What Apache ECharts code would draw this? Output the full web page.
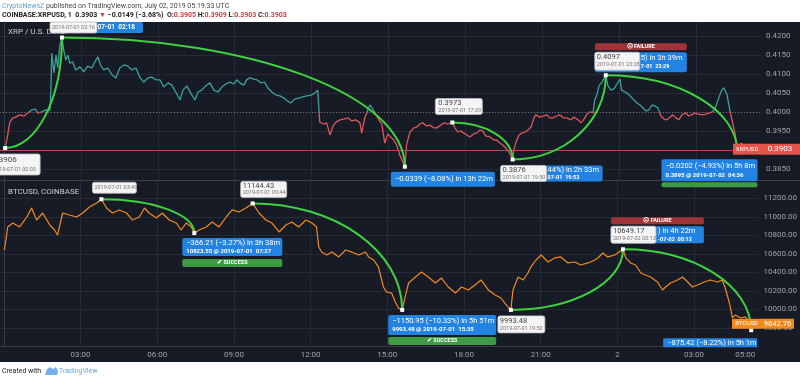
<!DOCTYPE html>
<html><head><meta charset="utf-8">
<script src="https://cdn.jsdelivr.net/npm/echarts@6/dist/echarts.min.js"></script>
<style>html,body{margin:0;padding:0;background:#fff}#c{width:800px;height:381px}</style>
</head><body><div id="c"></div>
<script>
// ---- DATA (minutes since 2019-07-01 00:00 UTC) ----
const xrpTimes = [3,9,14,21,28,37,47,56,65,73,80,89,98,103,108,110,112,117,122,126,131,136,140,145,150,154,161,168,178,187,196,206,215,220,227,234,243,253,262,271,281,290,299,309,318,327,337,346,356,365,374,384,393,402,412,419,428,437,447,454,463,472,482,491,501,510,519,529,538,545,552,561,568,575,585,592,601,610,617,627,636,646,655,664,671,681,690,699,709,718,727,734,739,748,755,763,770,777,786,795,805,814,823,833,837,844,849,856,863,870,877,884,891,898,905,912,919,926,938,942,946,950,959,966,973,980,989,996,1006,1013,1022,1029,1039,1049,1055,1062,1069,1076,1083,1090,1099,1106,1113,1120,1127,1137,1146,1153,1160,1167,1174,1181,1190,1193,1198,1205,1212,1219,1226,1233,1240,1244,1254,1261,1270,1277,1284,1293,1300,1310,1317,1326,1333,1343,1350,1357,1364,1371,1378,1382,1387,1392,1399,1408,1413,1420,1427,1434,1441,1445,1453,1460,1467,1474,1481,1488,1495,1502,1509,1516,1523,1530,1537,1544,1551,1558,1565,1572,1579,1586,1595,1602,1609,1616,1623,1635,1642,1651,1658,1665,1672,1679,1684,1691,1698,1703,1710,1716,1724,1731,1740,1747,1754,1759];
const xrpValues = [0.3906,0.3940,0.3974,0.3985,0.3987,0.3993,0.3990,0.3998,0.4006,0.4008,0.3998,0.4001,0.4006,0.4003,0.4006,0.4058,0.4155,0.4103,0.4150,0.4116,0.4176,0.4196,0.4163,0.4137,0.4150,0.4129,0.4132,0.4111,0.4119,0.4106,0.4121,0.4116,0.4137,0.4145,0.4121,0.4111,0.4116,0.4098,0.4090,0.4116,0.4124,0.4121,0.4111,0.4116,0.4092,0.4079,0.4090,0.4092,0.4085,0.4085,0.4066,0.4077,0.4071,0.4053,0.4032,0.4058,0.4069,0.4050,0.4032,0.4053,0.4058,0.4069,0.4077,0.4058,0.4053,0.4066,0.4074,0.4079,0.4074,0.4085,0.4077,0.4071,0.4085,0.4090,0.4087,0.4085,0.4077,0.4079,0.4064,0.4053,0.4045,0.4043,0.4037,0.4029,0.4024,0.4035,0.4037,0.4040,0.4043,0.4045,0.4050,0.4058,0.3974,0.3969,0.3972,0.3940,0.3964,0.3974,0.3980,0.3982,0.3985,0.3977,0.3980,0.3972,0.3945,0.3985,0.3998,0.4019,0.4008,0.3995,0.3980,0.3969,0.3919,0.3943,0.3935,0.3927,0.3914,0.3888,0.3857,0.3914,0.3932,0.3948,0.3959,0.3961,0.3969,0.3972,0.3964,0.3966,0.3959,0.3959,0.3966,0.3972,0.3969,0.3973,0.3959,0.3948,0.3951,0.3945,0.3940,0.3935,0.3943,0.3945,0.3953,0.3951,0.3938,0.3935,0.3927,0.3927,0.3919,0.3914,0.3906,0.3896,0.3876,0.3901,0.3922,0.3940,0.3945,0.3948,0.3953,0.3961,0.3985,0.3993,0.3987,0.3990,0.3993,0.3985,0.3985,0.3990,0.3993,0.3985,0.3985,0.3980,0.3987,0.3980,0.3972,0.3982,0.3995,0.4001,0.3998,0.4032,0.4045,0.4069,0.4079,0.4097,0.4069,0.4058,0.4061,0.4074,0.4087,0.4058,0.4053,0.4048,0.4040,0.4032,0.4024,0.4019,0.4011,0.4003,0.4006,0.4019,0.4016,0.4011,0.3990,0.3982,0.3980,0.3987,0.3993,0.3985,0.3980,0.3993,0.3998,0.3990,0.3993,0.3998,0.3995,0.3993,0.3995,0.3998,0.4001,0.4014,0.4037,0.4058,0.4064,0.4048,0.4006,0.3980,0.3945,0.3895,0.3919,0.3911,0.3914,0.3906,0.3909,0.3903];
const btcTimes = [1,5,9,21,37,54,65,77,91,108,119,126,138,154,171,185,201,218,229,241,255,271,288,302,318,330,341,358,372,388,405,416,428,440,447,458,475,489,505,522,536,552,568,584,599,615,629,646,662,676,692,709,723,734,739,746,758,770,786,802,816,833,849,856,868,879,891,898,910,919,926,935,943,950,966,980,996,1013,1027,1043,1060,1074,1090,1106,1120,1137,1153,1167,1179,1190,1195,1207,1219,1230,1237,1249,1261,1277,1293,1307,1324,1340,1354,1371,1387,1394,1406,1417,1434,1453,1460,1471,1483,1495,1506,1518,1534,1546,1553,1565,1581,1593,1605,1616,1628,1644,1658,1675,1686,1693,1703,1710,1717,1729,1740,1747,1754,1759];
const btcValues = [10641,10749,10890,10933,10890,10998,11095,10965,11041,10911,10857,10803,11041,11019,10998,11041,11106,11149,11189.76,11095,11041,11074,11041,10965,10998,11095,11041,10987,11041,10965,10933,10857,10933,10890,10823.55,10857,10890,10944,10890,10998,11074,11052,11095,11144.43,11041,10965,10933,10836,10911,10944,10890,10965,10933,10890,10674,10620,10587,10620,10566,10641,10620,10587,10620,10566,10533,10458,10241,10187,10176,10079,10014,9993.48,10155,10284,10349,10403,10349,10284,10338,10241,10176,10241,10209,10263,10317,10209,10155,10122,10047,9993.48,10209,10349,10317,10392,10458,10533,10587,10511,10555,10566,10501,10511,10479,10501,10533,10555,10609,10566,10587,10649.17,10555,10501,10479,10392,10371,10349,10295,10209,10241,10284,10317,10349,10295,10241,10263,10295,10317,10295,10317,10230,10068,9906,9939,9906,9917,9885,9773.75,9842.76];
const xrpTicks = [0.385,0.390,0.395,0.400,0.405,0.410,0.415,0.420];
const btcTicks = [9800,10000,10200,10400,10600,10800,11000,11200];
const timeGridTicks = [180,360,540,720,900,1080,1260,1440,1620];
const timeLabelTicks = [180,360,540,720,900,1080,1260,1440,1620,1740];
const xrpBaseline = 0.4001;
const xrpLast = 0.3903, btcLast = 9842.76;
// annotation anchor points [minute, price]
const xrpPoints = [[3,0.3906],[136,0.4196],[938,0.3857],[1049,0.3973],[1190,0.3876],[1408,0.4097],[1716,0.3895]];
const xrpArcs = [[0,1],[1,2],[3,4],[4,5],[5,6]];
const btcPoints = [[229,11189.76],[447,10823.55],[584,11144.43],[935,9993.48],[1190,9993.48],[1453,10649.17],[1754,9773.75]];
const btcArcs = [[0,1],[2,3],[4,5],[5,6]];

const FF = 'Roboto, "Liberation Sans", sans-serif';
const FN = FF;
const TEAL = '#3aa197', RED = '#e0545a', ORANGE = '#f28a1e';
const BLUE = '#2383e2', GREEN = '#3f9b43', FAIL = '#9e3438', WBG = '#f4f4f4', WBR = '#bdbdbd';
const GRIDC = '#262a36', AXC = '#9ea1aa';

const chart = echarts.init(document.getElementById('c'), null, {renderer: 'canvas'});
const pad = n => (n < 10 ? '0' : '') + n;
const xAxisBase = (gi, showLabels) => ({
  gridIndex: gi, type: 'value', min: -9, max: 1771,
  axisLine: {show: showLabels, lineStyle: {color: '#363a45'}},
  axisTick: {show: false, customValues: timeGridTicks},
  splitLine: {show: true, lineStyle: {color: GRIDC, width: 1}},
  axisLabel: {show: showLabels, customValues: timeLabelTicks, color: AXC, fontSize: 8, fontFamily: FF, margin: 5,
    formatter: v => v === 1440 ? '2' : pad(Math.floor(v / 60) % 24) + ':00'}
});
const yAxisBase = (gi, min, max, ticks, dec) => ({
  gridIndex: gi, type: 'value', position: 'right', min: min, max: max,
  axisLine: {show: true, lineStyle: {color: '#363a45'}},
  axisTick: {show: false, customValues: ticks},
  splitLine: {show: true, lineStyle: {color: GRIDC, width: 1}},
  axisLabel: {customValues: ticks, color: AXC, fontSize: 8, fontFamily: FF, margin: 5, formatter: v => v.toFixed(dec)}
});

const option = {
  backgroundColor: '#ffffff',
  animation: false,
  grid: [
    {left: 0, right: 39, top: 22, height: 158},
    {left: 0, right: 39, top: 181, height: 165}
  ],
  xAxis: [xAxisBase(0, false), xAxisBase(1, true)],
  yAxis: [
    yAxisBase(0, 0.382205, 0.423675, xrpTicks, 4),
    yAxisBase(1, 9603, 11387, btcTicks, 2)
  ],
  series: [
    {
      type: 'line', xAxisIndex: 0, yAxisIndex: 0, showSymbol: false, z: 3,
      data: xrpTimes.map((t, i) => [t, xrpValues[i]]),
      lineStyle: {width: 1.3, color: TEAL}, itemStyle: {color: TEAL},
      markLine: {
        silent: true, symbol: ['none', 'none'], label: {show: false},
        data: [
          {yAxis: xrpBaseline, lineStyle: {color: '#6b6e79', type: [1, 2], width: 1}},
          {yAxis: xrpLast, lineStyle: {color: '#b8474f', type: 'solid', width: 1}}
        ]
      }
    },
    {
      type: 'line', xAxisIndex: 1, yAxisIndex: 1, showSymbol: false, z: 3,
      data: btcTimes.map((t, i) => [t, btcValues[i]]),
      lineStyle: {width: 1.2, color: ORANGE}, itemStyle: {color: ORANGE}
    }
  ]
};
chart.setOption(option);

const P = (g, t, v) => chart.convertToPixel({gridIndex: g}, [t, v]);

// baseline colouring of XRP line: teal above, red below
const yTop = P(0, 0, 0.423675)[1], yBot = P(0, 0, 0.382205)[1], yBase = P(0, 0, xrpBaseline)[1];
const f = (yBase - yTop) / (yBot - yTop);
chart.setOption({series: [{lineStyle: {color: new echarts.graphic.LinearGradient(0, yTop, 0, yBot, [
  {offset: 0, color: TEAL}, {offset: f, color: TEAL}, {offset: f, color: RED}, {offset: 1, color: RED}], true)}}]});

const E = [];
const R = (x, y, w, h, fill, stroke, r) => E.push({type: 'rect', z: 20, shape: {x: x, y: y, width: w, height: h, r: r == null ? 2 : r},
  style: {fill: fill, stroke: stroke || null, lineWidth: stroke ? 0.8 : 0}});
const T = (x, y, s, size, fill, o) => { o = o || {}; E.push({type: 'text', z: 20, x: x, y: y,
  style: {text: s, fill: fill, fontSize: size, fontFamily: o.f || FN, fontWeight: o.w || 'normal',
    align: o.a || 'left', verticalAlign: 'middle', textAlign: o.a || 'left', textVerticalAlign: 'middle'}}); };

// background + separators
E.push({type: 'rect', z: -10, shape: {x: 0, y: 22, width: 800, height: 340}, style: {fill: '#171b26'}});
E.push({type: 'line', z: 20, shape: {x1: 0, y1: 180.5, x2: 800, y2: 180.5}, style: {stroke: '#3a3e4a', lineWidth: 1}});

// header
E.push({type: 'text', z: 20, x: 2, y: 6, style: {text: '{a|CryptoNewsZ}{b| published on TradingView.com, July 02, 2019 05:19:33 UTC}',
  verticalAlign: 'middle', textVerticalAlign: 'middle',
  rich: {a: {fill: '#5aa5e0', fontSize: 7, fontFamily: FF}, b: {fill: '#444', fontSize: 7, fontFamily: FF}}}});
E.push({type: 'text', z: 20, x: 2, y: 15.5, style: {
  text: '{k|COINBASE:XRPUSD, 1  0.3903 }{r|▼}{k| −0.0149 (−3.68%)  O:}{r|0.3905}{k| H:}{r|0.3909}{k| L:}{r|0.3903}{k| C:}{r|0.3903}',
  verticalAlign: 'middle', textVerticalAlign: 'middle',
  rich: {k: {fill: '#222', fontSize: 7, fontWeight: 'bold', fontFamily: FF}, r: {fill: '#c9403f', fontSize: 7, fontWeight: 'bold', fontFamily: FF}}}});

// panel titles
T(8, 32, 'XRP / U.S. Dollar', 8, '#c9ccd4');
T(8, 192, 'BTCUSD, COINBASE', 8, '#c9ccd4');

// arcs
function arc(g, a, b) {
  const s = P(g, a[0], a[1]), e = P(g, b[0], b[1]), k = 0.5523;
  E.push({type: 'bezierCurve', z: 20, shape: {x1: s[0], y1: s[1], x2: e[0], y2: e[1],
    cpx1: s[0] + k * (e[0] - s[0]), cpy1: s[1], cpx2: e[0], cpy2: e[1] + k * (s[1] - e[1])},
    style: {stroke: '#3fd23f', lineWidth: 2, fill: null}});
}
xrpArcs.forEach(p => arc(0, xrpPoints[p[0]], xrpPoints[p[1]]));
btcArcs.forEach(p => arc(1, btcPoints[p[0]], btcPoints[p[1]]));
xrpPoints.forEach(p => { const q = P(0, p[0], p[1]); R(q[0] - 2, q[1] - 2, 4, 4, '#ffffff', null, 0); });
btcPoints.forEach(p => { const q = P(1, p[0], p[1]); R(q[0] - 2, q[1] - 2, 4, 4, '#ffffff', null, 0); });

// ---- XRP annotations ----
let a = P(0, ...xrpPoints[0]);
R(a[0] - 18, a[1] + 6, 53, 21, WBG, WBR); T(a[0] - 13, a[1] + 12, '0.3906', 8, '#444'); T(a[0] - 12, a[1] + 21.5, '2019-07-01 00:03', 5.5, '#777');
a = P(0, ...xrpPoints[1]);
R(a[0] - 12, a[1] - 15.5, 93, 11, BLUE); T(a[0] + 73, a[1] - 10, '2019-07-01  02:18', 6.5, '#fff', {a: 'right', w: 'bold'});
R(a[0] - 12, a[1] - 15.5, 47, 11, WBG, WBR); T(a[0] - 10, a[1] - 10, '2019-07-01 02:16', 5.5, '#777');
a = P(0, ...xrpPoints[3]);
R(a[0] - 17, a[1] - 24, 47, 16, WBG, WBR); T(a[0] - 14, a[1] - 19.5, '0.3973', 7.5, '#444'); T(a[0] - 14, a[1] - 12, '2019-07-01 17:29', 5.5, '#777');
a = P(0, ...xrpPoints[2]);
R(a[0] - 14, a[1] + 5, 104, 15, BLUE); T(a[0] - 10, a[1] + 12.5, '−0.0339 (−8.08%) in 13h 22m', 7.5, '#fff');
a = P(0, ...xrpPoints[4]);
R(a[0] - 12, a[1] + 6, 102, 16, BLUE); T(a[0] + 35, a[1] + 10.5, '44%) in 2h 33m', 7.5, '#fff'); T(a[0] + 35, a[1] + 18.5, '07-01  19:53', 5.5, '#fff', {w: 'bold'});
R(a[0] - 12, a[1] + 6, 46, 16, WBG, WBR); T(a[0] - 10, a[1] + 10.5, '0.3876', 7.5, '#444'); T(a[0] - 10, a[1] + 18, '2019-07-01 19:50', 5.5, '#777');
a = P(0, ...xrpPoints[5]);
R(a[0] - 11, a[1] - 32, 92, 7, FAIL); T(a[0] + 35, a[1] - 28.5, '☹ FAILURE', 5.5, '#fff', {a: 'center', w: 'bold'});
R(a[0] - 11, a[1] - 23, 92, 20, BLUE); T(a[0] + 35, a[1] - 17.5, '5) in 3h 39m', 7.5, '#fff'); T(a[0] + 35, a[1] - 9, '7-01  23:29', 5.5, '#fff', {w: 'bold'});
R(a[0] - 11, a[1] - 23, 45, 18, WBG, WBR); T(a[0] - 9, a[1] - 18.5, '0.4097', 7.5, '#444'); T(a[0] - 9, a[1] - 11, '2019-07-01 23:28', 5.5, '#777');
a = P(0, ...xrpPoints[6]);
R(a[0] - 76, a[1] + 7, 96, 22, BLUE); T(a[0] - 72, a[1] + 13.5, '−0.0202 (−4.93%) in 5h 8m', 7.5, '#fff'); T(a[0] - 72, a[1] + 23, '0.3895 @ 2019-07-02  04:36', 6, '#fff', {w: 'bold'});
R(a[0] - 76, a[1] + 30, 96, 5, GREEN);
let yy = P(0, 0, xrpLast)[1];
R(733, yy - 5.5, 28, 11, '#e5534b', null, 0); T(747, yy, 'XRPUSD', 6, '#fff', {a: 'center'});
R(761, yy - 5.5, 39, 11, '#e5534b', null, 0); T(780, yy, '0.3903', 8, '#fff', {a: 'center'});

// ---- BTC annotations ----
a = P(1, ...btcPoints[0]);
R(a[0] - 9, a[1] - 17, 44, 11, WBG, WBR); T(a[0] - 7, a[1] - 11.5, '2019-07-01 03:49', 5.5, '#777');
a = P(1, ...btcPoints[1]);
R(a[0] - 12, a[1] + 5, 100, 18, BLUE); T(a[0] - 8, a[1] + 10.5, '−366.21 (−3.27%) in 3h 38m', 7.5, '#fff'); T(a[0] - 8, a[1] + 18.5, '10823.55 @ 2019-07-01  07:27', 6, '#fff', {w: 'bold'});
R(a[0] - 12, a[1] + 26, 100, 8, GREEN); T(a[0] + 38, a[1] + 30, '✔ SUCCESS', 5.5, '#fff', {a: 'center', w: 'bold'});
a = P(1, ...btcPoints[2]);
R(a[0] - 12, a[1] - 22, 46, 16, WBG, WBR); T(a[0] - 10, a[1] - 17.5, '11144.43', 7.5, '#444'); T(a[0] - 10, a[1] - 10.5, '2019-07-01 09:44', 5.5, '#777');
a = P(1, ...btcPoints[3]);
R(a[0] - 14, a[1] + 5, 108, 20, BLUE); T(a[0] - 10, a[1] + 11, '−1150.95 (−10.33%) in 5h 51m', 7.5, '#fff'); T(a[0] - 10, a[1] + 20, '9993.48 @ 2019-07-01  15:35', 6, '#fff', {w: 'bold'});
R(a[0] - 14, a[1] + 27, 108, 8, GREEN); T(a[0] + 40, a[1] + 31, '✔ SUCCESS', 5.5, '#fff', {a: 'center', w: 'bold'});
a = P(1, ...btcPoints[4]);
R(a[0] - 13, a[1] + 6, 47, 17, WBG, WBR); T(a[0] - 11, a[1] + 11, '9993.48', 7.5, '#444'); T(a[0] - 11, a[1] + 18.5, '2019-07-01 19:50', 5.5, '#777');
a = P(1, ...btcPoints[5]);
R(a[0] - 12, a[1] - 32, 93, 7, FAIL); T(a[0] + 34.5, a[1] - 28.5, '☹ FAILURE', 5.5, '#fff', {a: 'center', w: 'bold'});
R(a[0] - 12, a[1] - 23, 93, 17, BLUE); T(a[0] + 35, a[1] - 18, ') in 4h 22m', 7.5, '#fff'); T(a[0] + 35, a[1] - 10, '-07-02  00:12', 5.5, '#fff', {w: 'bold'});
R(a[0] - 12, a[1] - 23, 45, 17, WBG, WBR); T(a[0] - 10, a[1] - 18.5, '10649.17', 7.5, '#444'); T(a[0] - 10, a[1] - 11, '2019-07-02 00:13', 5.5, '#777');
a = P(1, ...btcPoints[6]);
R(a[0] - 88, a[1] + 8, 94, 9, BLUE, null, 1); T(a[0] - 84, a[1] + 13, '−875.42 (−8.22%) in 5h 1m', 7.5, '#fff');
yy = P(1, 0, btcLast)[1];
R(732, yy - 5, 29, 10, ORANGE, null, 0); T(746.5, yy, 'BTCUSD', 6, '#fff', {a: 'center'});
R(761, yy - 5, 33, 10, ORANGE, null, 0); T(777.5, yy, '9842.76', 7.5, '#fff', {a: 'center'});

// footer
T(2, 371, 'Created with', 7, '#222');
E.push({type: 'polygon', z: 20, shape: {points: [[45, 375], [47, 369], [50, 367], [53, 369], [56, 367], [58, 371], [57, 375]]}, style: {fill: '#6fb0ea'}});
T(59, 371, 'TradingView', 7, '#5ea6e8');

chart.setOption({graphic: {elements: E}});
</script></body></html>
